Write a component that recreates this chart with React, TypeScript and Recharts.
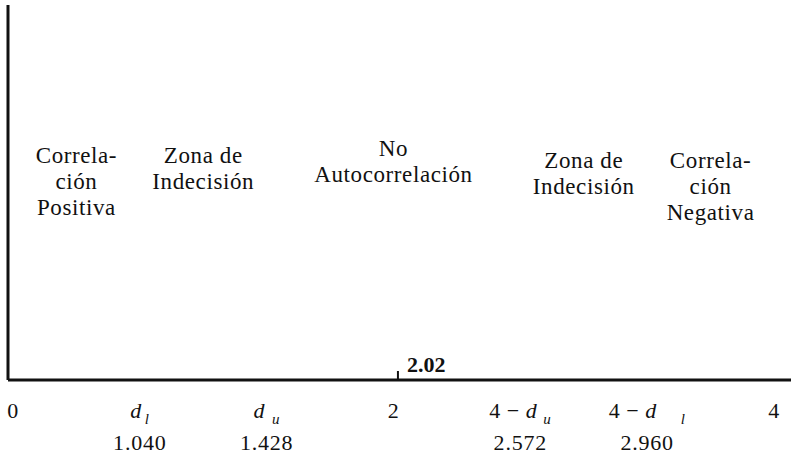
import { ComposedChart, XAxis, YAxis, Scatter, ReferenceArea } from 'recharts';

// Durbin-Watson decision regions
const tickMain = ['0', 'd', 'd', '2', '4 − d', '4 − d', '4'];
const tickSub = ['', 'l', 'u', '', 'u', 'l', ''];
const criticalValues = ['', '1.040', '1.428', '', '2.572', '2.960', ''];
const boundaryValues = [0, 1.04, 1.428, 2, 2.572, 2.96, 4];

const zoneLabels = [
  ['Correla-', 'ción', 'Positiva'],
  ['Zona de', 'Indecisión'],
  ['No', 'Autocorrelación'],
  ['Zona de', 'Indecisión'],
  ['Correla-', 'ción', 'Negativa'],
];
const zoneFrom = [0, 1, 2, 4, 5];
const zoneTo = [1, 2, 4, 5, 6];

const dwStatistic = 2.02;

const FONT = '"Liberation Serif", "Times New Roman", serif';
const INK = '#111';
const subGap = [0, 3, 7, 0, 6, 24, 0];
const zoneBaseline = [163, 163, 156, 168, 168];

// place the statistic between the two boundaries around it
const statPos = (() => {
  for (let i = 0; i < boundaryValues.length - 1; i++) {
    const a = boundaryValues[i];
    const b = boundaryValues[i + 1];
    if (dwStatistic >= a && dwStatistic <= b) return i + (dwStatistic - a) / (b - a);
  }
  return 0;
})();

const rows = tickMain.map((_, i) => ({ pos: i }));
const statData = [{ pos: statPos, level: 0 }];

const AxisTick = ({ x, y, payload }: any) => {
  const i = payload.value as number;
  const main = tickMain[i];
  const d = main.indexOf('d');
  const prefix = d >= 0 ? main.slice(0, d) : main;
  return (
    <g>
      <text x={x} y={y + 38} textAnchor="middle" fontFamily={FONT} fontSize={22} letterSpacing={0.5} fill={INK} style={{ whiteSpace: 'pre' }}>
        <tspan>{prefix}</tspan>
        {d >= 0 && <tspan fontStyle="italic">d</tspan>}
        {tickSub[i] && (
          <tspan fontStyle="italic" fontSize={15} dx={subGap[i]} dy={6}>
            {tickSub[i]}
          </tspan>
        )}
      </text>
      {criticalValues[i] && (
        <text x={x} y={y + 70} textAnchor="middle" fontFamily={FONT} fontSize={22} letterSpacing={0.8} fill={INK}>
          {criticalValues[i]}
        </text>
      )}
    </g>
  );
};

const zoneLabel = (k: number) => (props: any) => {
  const vb = props.viewBox;
  const cx = vb.x + vb.width / 2;
  return (
    <text x={cx} y={zoneBaseline[k]} textAnchor="middle" fontFamily={FONT} fontSize={23} letterSpacing={0.6} fill={INK}>
      {zoneLabels[k].map((line, j) => (
        <tspan key={j} x={cx} dy={j === 0 ? 0 : 26}>
          {line}
        </tspan>
      ))}
    </text>
  );
};

const StatMark = ({ cx, cy }: any) => (
  <g>
    <line x1={cx} x2={cx} y1={cy - 9} y2={cy} stroke={INK} strokeWidth={2} />
    <text x={cx + 9} y={cy - 8} fontFamily={FONT} fontSize={22} fontWeight="bold" fill={INK}>
      {dwStatistic.toFixed(2)}
    </text>
  </g>
);

export default function App() {
  return (
    <div style={{ position: 'absolute', left: 0, top: 0, background: '#fff' }}>
      <ComposedChart width={791} height={472} data={rows} margin={{ top: 5, right: 0, left: 6, bottom: 7 }}>
        <XAxis
          dataKey="pos"
          type="number"
          domain={[0, 6]}
          ticks={[0, 1, 2, 3, 4, 5, 6]}
          padding={{ left: 5, right: 17 }}
          height={85}
          tickLine={false}
          tickSize={0}
          tickMargin={0}
          axisLine={{ stroke: INK, strokeWidth: 3 }}
          tick={<AxisTick />}
          interval={0}
        />
        <YAxis
          type="number"
          domain={[0, 1]}
          width={2}
          tick={false}
          tickLine={false}
          axisLine={{ stroke: INK, strokeWidth: 3 }}
        />
        {zoneLabels.map((_, k) => (
          <ReferenceArea
            key={k}
            x1={zoneFrom[k]}
            x2={zoneTo[k]}
            y1={0}
            y2={1}
            fill="none"
            fillOpacity={0}
            strokeOpacity={0}
            label={zoneLabel(k)}
          />
        ))}
        <Scatter data={statData} dataKey="level" shape={<StatMark />} isAnimationActive={false} />
      </ComposedChart>
    </div>
  );
}
